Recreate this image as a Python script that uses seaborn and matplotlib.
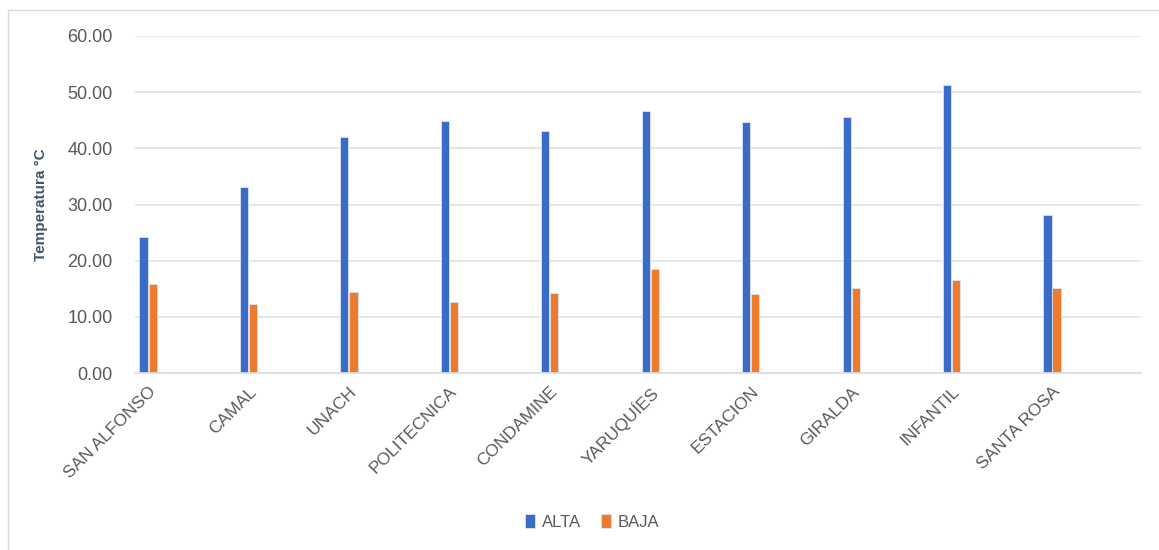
import pandas as pd
import numpy as np
import matplotlib
matplotlib.use('Agg')
import matplotlib.pyplot as plt
import seaborn as sns
from matplotlib.patches import Rectangle

# Valores
sitios = ['SAN ALFONSO', 'CAMAL', 'UNACH', 'POLITECNICA', 'CONDAMINE',
          'YARUQUÍES', 'ESTACION', 'GIRALDA', 'INFANTIL', 'SANTA ROSA']
alta = [24.2, 33.2, 42.0, 44.8, 43.0, 46.7, 44.6, 45.5, 51.3, 28.2]
baja = [15.9, 12.3, 14.5, 12.7, 14.3, 18.6, 14.1, 15.1, 16.6, 15.1]
series = ['ALTA', 'BAJA']
colores = ['#3A6BC6', '#EE7A2E']

df = pd.DataFrame({
    'Sitio': sitios * 2,
    'Temperatura': alta + baja,
    'Serie': ['ALTA'] * len(sitios) + ['BAJA'] * len(sitios),
})

sns.set_style('white')
plt.rcParams['font.family'] = ['Liberation Sans', 'DejaVu Sans']

fig = plt.figure(figsize=(11.59, 5.5), dpi=100)
ax = fig.add_axes([135 / 1159, 1 - 373 / 550, (1141 - 135) / 1159, (373 - 36) / 550])

sns.barplot(data=df, x='Sitio', y='Temperatura', hue='Serie', order=sitios,
            hue_order=series, palette=colores, saturation=1, width=0.18, gap=0.1,
            edgecolor='#DCE4F2', linewidth=0.6, ax=ax)

ax.set_ylim(0, 60)
ax.set_xlim(-0.13, 9.886)
ax.set_yticks(np.arange(0, 61, 10))
ax.set_yticklabels([f'{v:.2f}' for v in np.arange(0, 61, 10)])
ax.yaxis.grid(True, color='#E1E4E9', linewidth=1.3)
ax.set_axisbelow(True)
for s in ['top', 'right', 'left']:
    ax.spines[s].set_visible(False)
ax.spines['bottom'].set_color('#DADDE3')
ax.spines['bottom'].set_linewidth(1.3)
ax.tick_params(axis='y', length=0, pad=16, labelsize=13, labelcolor='#595959')
ax.tick_params(axis='x', length=0, pad=8, labelsize=12.5, labelcolor='#595959')
plt.setp(ax.get_xticklabels(), rotation=45, ha='right', rotation_mode='anchor')
ax.set_xlabel('')
ax.set_ylabel('Temperatura °C', fontsize=11, fontweight='bold', color='#44546A', labelpad=14)

handles, labels = ax.get_legend_handles_labels()
ax.legend(handles, labels, loc='center', bbox_to_anchor=(592 / 1159, 1 - 522 / 550),
          bbox_transform=fig.transFigure, ncol=2, frameon=False, fontsize=12,
          handlelength=0.6, handleheight=0.9, handletextpad=0.4, columnspacing=1.2,
          labelcolor='#595959')

# borde del area del grafico
fig.patches.append(Rectangle((8 / 1159, -0.01), 1.1, 1 - 10 / 550 + 0.01,
                             transform=fig.transFigure, fill=False,
                             edgecolor='#D9D9D9', linewidth=1))

fig.savefig('out.png', dpi=100)
